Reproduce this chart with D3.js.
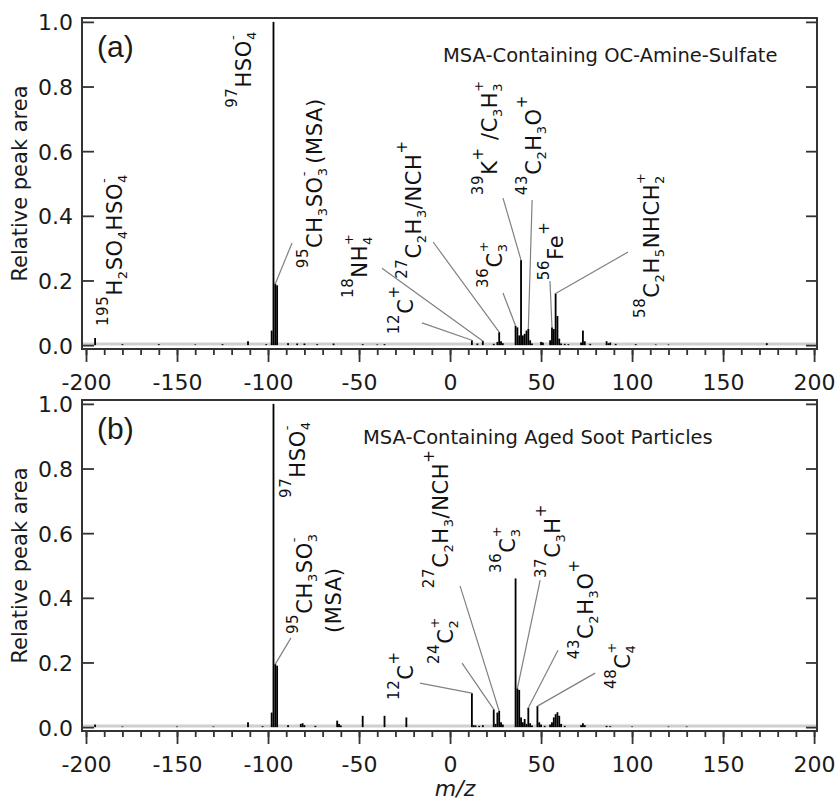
<!DOCTYPE html>
<html>
<meta charset="utf-8">
<script src="https://d3js.org/d3.v7.min.js"></script>
<head>
<style>
body { margin: 0; background: #fff; }
svg text { font-family: "DejaVu Sans", sans-serif; fill: #1a1a1a; }
.tick text { font-size: 22px; }
.ylab { font-size: 21px; }
.title { font-size: 19.5px; }
.tag { font-family: "Liberation Sans", Arial, sans-serif !important; font-size: 30px; }
.mz { font-size: 22px; font-style: italic; }
.ion { letter-spacing: 0.6px; fill: #111; }
</style>
</head>
<body>
<div id="chart"></div>
<script>

// panel (a) spectrum: MSA-containing OC-amine-sulfate
var mzA  = [-195, -180, -160, -140, -125, -111, -101, -98, -97, -96, -95, -89, -84, -80, -73, -64, -48, -40, -36,
            12, 15, 18, 24, 26, 27, 28, 29, 36, 37, 38, 39, 40, 41, 42, 43, 44, 45, 50, 51, 55, 56, 57, 58, 59, 60,
            61, 63, 65, 72, 73, 74, 77, 86, 87, 88, 91, 102, 113, 120, 174];
var relA = [0.022, 0.003, 0.003, 0.002, 0.003, 0.012, 0.003, 0.045, 1.0, 0.19, 0.185, 0.006, 0.005, 0.005, 0.003, 0.005, 0.003, 0.002, 0.003,
            0.015, 0.005, 0.013, 0.004, 0.01, 0.04, 0.012, 0.006, 0.06, 0.055, 0.03, 0.263, 0.03, 0.035, 0.045, 0.05, 0.015, 0.005, 0.01, 0.008, 0.015, 0.055, 0.05, 0.16, 0.09, 0.02,
            0.005, 0.004, 0.003, 0.008, 0.045, 0.012, 0.004, 0.012, 0.006, 0.008, 0.004, 0.003, 0.002, 0.002, 0.006];

// panel (b) spectrum: MSA-containing aged soot
var mzB  = [-195, -180, -150, -130, -111, -103, -98, -97, -96, -95, -89, -82, -81, -80, -74, -62, -61, -60, -48, -36, -24,
            12, 13, 14, 16, 18, 24, 25, 26, 27, 28, 29, 36, 37, 38, 39, 40, 41, 42, 43, 44, 45, 48, 49, 50, 52, 55, 56, 57, 58, 59, 60,
            61, 63, 72, 73, 74, 86, 88, 100, 120, 130];
var relB = [0.008, 0.002, 0.002, 0.002, 0.015, 0.003, 0.045, 1.0, 0.195, 0.19, 0.006, 0.01, 0.012, 0.006, 0.004, 0.02, 0.01, 0.005, 0.035, 0.035, 0.03,
            0.105, 0.006, 0.005, 0.004, 0.006, 0.055, 0.01, 0.045, 0.05, 0.015, 0.008, 0.46, 0.12, 0.115, 0.03, 0.015, 0.025, 0.01, 0.06, 0.012, 0.005, 0.065, 0.015, 0.008, 0.004, 0.008, 0.015, 0.03, 0.04, 0.046, 0.035,
            0.01, 0.004, 0.006, 0.012, 0.006, 0.004, 0.003, 0.002, 0.002, 0.002];

var xMajor = d3.range(-200, 201, 50);
var xMinor = d3.range(-200, 201, 10);
var yTicks = [0, 0.2, 0.4, 0.6, 0.8, 1.0];
var titles = ["MSA-Containing OC-Amine-Sulfate", "MSA-Containing Aged Soot Particles"];
var tags = ["(a)", "(b)"];

// ion labels: pieces of text, anchor (m/z, rel. area), optional leader from a point to a peak
var labelsA = [
  {parts: [["195","sup"],["H"],["2","sub"],["SO"],["4","sub"],["HSO"],["4","sub"],["-","chg"]], at: [-180.2, 0.059]},
  {parts: [["97","sup"],["HSO"],["4","sub"],["-","chg"]], at: [-109.4, 0.734]},
  {parts: [["95","sup"],["CH"],["3","sub"],["SO"],["3","sub"],["-","chg"],[" (MSA)"]], at: [-70.3, 0.238], from: [-86.8, 0.316], to: -96},
  {parts: [["18","sup"],["NH"],["4","sub"],["+","chg"]], at: [-45.6, 0.146], from: [-37.4, 0.238], to: 18},
  {parts: [["12","sup"],["C"],["+","sup"]], at: [-20.3, 0.034], from: [-15.4, 0.069], to: 12},
  {parts: [["27","sup"],["C"],["2","sub"],["H"],["3","sub"],["/NCH"],["+","sup"]], at: [-15.9, 0.205], from: [-9.3, 0.319], to: 27},
  {parts: [["36","sup"],["C"],["3","sub"],["+","chg"]], at: [28.6, 0.177], from: [29.1, 0.161], to: 36},
  {parts: [["39","sup"],["K"],["+","sup"],[" /C"],["3","sub"],["H"],["3","sub"],["+","chg"]], at: [25.8, 0.464], from: [29.1, 0.455], to: 39},
  {parts: [["43","sup"],["C"],["2","sub"],["H"],["3","sub"],["O"],["+","sup"]], at: [50.0, 0.464], from: [45.1, 0.449], to: 43},
  {parts: [["56","sup"],["Fe"],["+","sup"]], at: [62.1, 0.201], from: [54.9, 0.198], to: 56},
  {parts: [["58","sup"],["C"],["2","sub"],["H"],["5","sub"],["NHCH"],["2","sub"],["+","chg"]], at: [114.8, 0.084], from: [97.8, 0.288], to: 58}
];
var labelsB = [
  {parts: [["97","sup"],["HSO"],["4","sub"],["-","chg"]], at: [-79.7, 0.709]},
  {parts: [["95","sup"],["CH"],["3","sub"],["SO"],["3","sub"],["-","chg"]], at: [-75.8, 0.288], from: [-87.4, 0.276], to: -96},
  {parts: [["(MSA)"]], at: [-59.9, 0.291]},
  {parts: [["12","sup"],["C"],["+","sup"]], at: [-20.3, 0.084], from: [-16.5, 0.136], to: 12},
  {parts: [["24","sup"],["C"],["2","sub"],["+","chg"]], at: [1.6, 0.195], from: [6.6, 0.198], to: 24},
  {parts: [["27","sup"],["C"],["2","sub"],["H"],["3","sub"],["/NCH"],["+","sup"]], at: [-1.1, 0.430], from: [5.5, 0.437], to: 27},
  {parts: [["36","sup"],["C"],["3","sub"],["+","chg"]], at: [35.7, 0.477]},
  {parts: [["37","sup"],["C"],["3","sub"],["H"],["+","sup"]], at: [60.4, 0.461], from: [49.5, 0.455], to: 37},
  {parts: [["43","sup"],["C"],["2","sub"],["H"],["3","sub"],["O"],["+","sup"]], at: [78.6, 0.210], from: [59.3, 0.238], to: 43},
  {parts: [["48","sup"],["C"],["4","sub"],["+","chg"]], at: [98.9, 0.118], from: [79.7, 0.167], to: 48}
];

var width = 838, height = 801;
var left = 82, right = 817, panelH = 331;

var svg = d3.select("#chart").append("svg")
  .attr("width", width)
  .attr("height", height);

var x = d3.scaleLinear().domain([-202.2, 201.6]).range([left, right]);

function drawLabel(g, lab, y) {
  var t = g.append("text").attr("class", "ion")
    .attr("transform", "translate(" + x(lab.at[0]) + "," + y(lab.at[1]) + ") rotate(-90)");
  var shift = 0, prev = null;
  lab.parts.forEach(function(p) {
    var kind = p[1] || "main";
    var target = (kind == "sup" || kind == "chg") ? -14 : (kind == "sub" ? 5 : 0);
    var size = kind == "main" ? "21px" : (kind == "sup" ? "15px" : "13px");
    var ts = t.append("tspan").text(p[0])
      .attr("dy", target - shift)
      .style("font-size", size);
    if (kind == "chg" && prev) ts.attr("dx", -prev.node().getComputedTextLength());
    shift = target;
    prev = ts;
  });
}

function drawPanel(i, top, mz, rel, labels) {
  var y = d3.scaleLinear().domain([-0.012, 1.012]).range([top + panelH, top]);
  var g = svg.append("g");

  // light grey zero band
  g.append("line")
    .attr("x1", left).attr("x2", right)
    .attr("y1", y(0) - 1).attr("y2", y(0) - 1)
    .attr("stroke", "#cfcfcf").attr("stroke-width", 3);

  // peaks
  var peaks = d3.zip(mz, rel);
  g.selectAll("rect.peak")
    .data(peaks)
    .join("rect")
      .attr("x", function(d) { return x(d[0] - 0.5); })
      .attr("width", x(1) - x(0))
      .attr("y", function(d) { return y(d[1]); })
      .attr("height", function(d) { return y(0) - y(d[1]); })
      .attr("fill", "#000");

  // x axis: minor + major ticks pointing out
  var xm = g.append("g").attr("transform", "translate(0," + (top + panelH) + ")")
    .call(d3.axisBottom(x).tickValues(xMinor).tickSize(6).tickFormat(""));
  var xa = g.append("g").attr("transform", "translate(0," + (top + panelH) + ")")
    .call(d3.axisBottom(x).tickValues(xMajor).tickSize(13).tickPadding(12).tickFormat(function(d) { return String(d); }));

  // y axes: ticks pointing in on both sides
  var ya = g.append("g").attr("transform", "translate(" + left + ",0)")
    .call(d3.axisLeft(y).tickValues(yTicks).tickSizeInner(-12).tickSizeOuter(0).tickPadding(9).tickFormat(d3.format(".1f")));
  var yr = g.append("g").attr("transform", "translate(" + right + ",0)")
    .call(d3.axisRight(y).tickValues(yTicks).tickSizeInner(-11).tickSizeOuter(0).tickFormat(""));

  [xm, xa, ya, yr].forEach(function(a) {
    a.attr("font-size", null).attr("font-family", null).attr("color", "#333");
    a.select(".domain").remove();
    a.selectAll(".tick line").attr("stroke-width", 1.8);
  });
  ya.selectAll(".tick text").attr("dy", "0.36em");

  // frame
  g.append("rect")
    .attr("x", left).attr("y", top)
    .attr("width", right - left).attr("height", panelH)
    .attr("fill", "none").attr("stroke", "#333").attr("stroke-width", 2);

  // leader lines
  labels.filter(function(l) { return l.from; }).forEach(function(l) {
    var k = mz.indexOf(l.to);
    g.append("line")
      .attr("x1", x(l.from[0])).attr("y1", y(l.from[1]))
      .attr("x2", x(l.to)).attr("y2", y(rel[k]))
      .attr("stroke", "#808080").attr("stroke-width", 1.2);
  });

  labels.forEach(function(l) { drawLabel(g, l, y); });

  g.append("text").attr("class", "title")
    .attr("x", i == 0 ? 443 : 363).attr("y", top + 44)
    .text(titles[i]);

  g.append("text").attr("class", "tag")
    .attr("x", 97).attr("y", top + 39)
    .text(tags[i]);

  g.append("text").attr("class", "ylab")
    .attr("transform", "translate(27," + y(0.5) + ") rotate(-90)")
    .attr("text-anchor", "middle")
    .text("Relative peak area");
}

drawPanel(0, 18, mzA, relA, labelsA);
drawPanel(1, 400, mzB, relB, labelsB);

svg.append("text").attr("class", "mz")
  .attr("x", 455).attr("y", 796)
  .attr("text-anchor", "middle")
  .text("m/z");

</script>
</body>
</html>
